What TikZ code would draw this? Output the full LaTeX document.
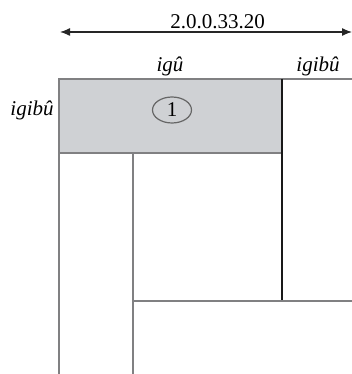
\documentclass[tikz,border=0pt]{standalone}
\usepackage{fontspec}
\setmainfont{Liberation Serif}
\usepackage{tikz}
\usetikzlibrary{arrows}
\usetikzlibrary{arrows.meta}
\usetikzlibrary{positioning}
\usetikzlibrary{shapes.geometric}
\tikzset{wall/.style = {draw=mgray, line width=1.2pt}}
\tikzset{lbl/.style = {font=\fontsize{21}{25}\selectfont\itshape, inner sep=1pt}}
\tikzset{dimline/.style = {{Latex[length=10pt, width=8pt]}-{Latex[length=10pt, width=8pt]},
                           line width=1.3pt, draw=black!85}}
\definecolor{mgray}{rgb}{0.50, 0.50, 0.51}
\definecolor{mfill}{rgb}{0.81, 0.82, 0.83}

\begin{document}
\begin{tikzpicture}[x=1pt, y=-1pt]
      \useasboundingbox (0, 0) rectangle (352, 374);

      \coordinate (al) at (60, 32);
      \coordinate (ar) at (352, 32);
      \draw [dimline] (al) -- (ar)
        node [pos=0.54, above=-1pt, font=\fontsize{21}{25}\selectfont] (len) {2.0.0.33.20};

      % shaded piece
      \fill [mfill] (59, 79) rectangle (282, 153);
      \draw [wall] (59, 153) -- (59, 79) -- (352, 79);
      \draw [wall] (59, 153) -- (282, 153);
      \draw [line width=1.2pt, black!90] (282, 79) -- (282, 301);

      \draw [wall] (59, 153) -- (59, 374);
      \draw [wall] (133, 153) -- (133, 374);
      \draw [wall] (133, 301) -- (352, 301);

      \node [draw=black!60, ellipse, line width=1.2pt, minimum width=39, minimum height=26,
             inner sep=0, font=\fontsize{21}{25}\selectfont] (one) at (172, 110) {1};

      \node [lbl] (top) at (170, 66) {igû};
      \node [lbl] (topr) at (318, 66) {igibû};
      \node [lbl] (left) at (32, 110) {igibû};
    \end{tikzpicture}
\end{document}
